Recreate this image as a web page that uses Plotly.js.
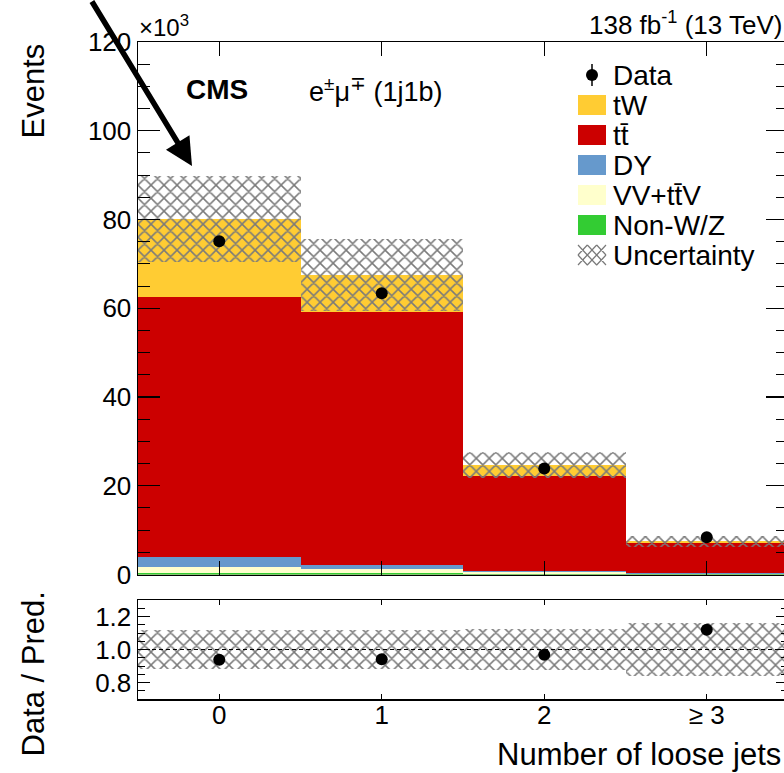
<!DOCTYPE html>
<html><head><meta charset="utf-8">
<script src="https://cdn.plot.ly/plotly-3.0.1.min.js"></script>
<style>html,body{margin:0;padding:0;overflow:hidden;background:#fff;width:784px;height:773px}</style>
</head><body><div id="chart" style="width:792px;height:773px"></div>
<script>
// values in units of 10^3 events
const categories = ['0', '1', '2', '≥ 3'];
const nonWZ = [0.45, 0.4, 0.2, 0.1];
const vvttv = [1.3, 0.8, 0.3, 0.1];
const dy = [2.15, 0.9, 0.3, 0.1];
const ttbar = [58.7, 57.0, 21.5, 6.7];
const tw = [17.5, 8.3, 2.4, 0.5];
const data = [75.1, 63.4, 23.9, 8.4];
const uncertainty = [9.7, 8.1, 3.0, 1.2];

const legendLabels = ['Data', 'tW', 'tt\u0304', 'DY', 'VV+tt\u0304V', 'Non-W/Z', 'Uncertainty'];
const colors = {tw: '#ffcc33', tt: '#cc0000', dy: '#6699cc', vv: '#ffffcc', nonwz: '#33cc33'};

const W = 792, H = 773, L = 138, R = 4, T = 42, B = 74;
const PW = W - L - R, PH = H - T - B;
const px = p => (p - L) / PW;
const py = p => (H - B - p) / PH;

function cum(...arrs) { return arrs[0].map((_, i) => arrs.reduce((s, a) => s + a[i], 0)); }
const c1 = cum(nonWZ), c2 = cum(nonWZ, vvttv), c3 = cum(nonWZ, vvttv, dy),
      c4 = cum(nonWZ, vvttv, dy, ttbar), c5 = cum(nonWZ, vvttv, dy, ttbar, tw);
const total = c5;

function bar(y, color, base) {
  const t = {type: 'bar', x: categories, y: y, width: 1, marker: {color: color, line: {width: 0}},
    xaxis: 'x', yaxis: 'y', hoverinfo: 'skip', showlegend: false};
  if (base) t.base = base;
  return t;
}
const hatch = {shape: 'x', fgcolor: '#7a7a7a', bgcolor: 'rgba(0,0,0,0)', size: 9.2, solidity: 0.3, fillmode: 'replace'};

const traces = [
  bar(c5, colors.tw), bar(c4, colors.tt), bar(c3, colors.dy), bar(c2, colors.vv), bar(c1, colors.nonwz),
  {type: 'bar', x: categories, y: uncertainty.map(u => 2 * u), base: total.map((t, i) => t - uncertainty[i]),
   width: 1, marker: {color: 'rgba(0,0,0,0)', line: {width: 0}, pattern: hatch}, xaxis: 'x', yaxis: 'y', showlegend: false},
  {type: 'scatter', mode: 'markers', x: categories, y: data, marker: {color: 'black', size: 12},
   xaxis: 'x', yaxis: 'y', showlegend: false},
  {type: 'bar', x: categories, y: uncertainty.map((u, i) => 2 * u / total[i]), base: uncertainty.map((u, i) => 1 - u / total[i]),
   width: 1, marker: {color: 'rgba(0,0,0,0)', line: {width: 0}, pattern: hatch}, xaxis: 'x2', yaxis: 'y2', showlegend: false},
  {type: 'scatter', mode: 'markers', x: categories, y: data.map((d, i) => d / total[i]), marker: {color: 'black', size: 12},
   xaxis: 'x2', yaxis: 'y2', showlegend: false}
];

const font = 'Liberation Sans, Arial, Helvetica, sans-serif';
const axisCommon = {showline: true, linecolor: 'black', linewidth: 1.5, mirror: 'ticks', showgrid: false, zeroline: false,
  ticks: 'inside', tickcolor: 'black', tickwidth: 1.2, fixedrange: true, tickfont: {family: font, size: 26, color: 'black'}};

const shapes = [
  {type: 'line', xref: 'paper', yref: 'y2', x0: 0, x1: 1, y0: 1, y1: 1, line: {color: 'black', width: 1, dash: '4px,3px'}}
];
const annotations = [];
function ann(text, x, y, opt) {
  annotations.push(Object.assign({text: text, xref: 'paper', yref: 'paper', x: px(x), y: py(y), showarrow: false,
    font: {family: font, size: 26, color: 'black'}}, opt || {}));
}
// legend
const legX0 = 578, legX1 = 606, legTextX = 611, legY0 = 75, legDY = 30;
legendLabels.forEach((lab, i) => {
  const yc = legY0 + i * legDY;
  ann(lab, legTextX, yc, {xanchor: 'left', yanchor: 'middle', font: {family: font, size: 28, color: 'black'}});
});
// data legend symbol
shapes.push({type: 'line', xref: 'paper', yref: 'paper', x0: px(592), x1: px(592), y0: py(legY0 - 11), y1: py(legY0 + 11), line: {color: 'black', width: 1.5}});
shapes.push({type: 'circle', xref: 'paper', yref: 'paper', x0: px(586), x1: px(598), y0: py(legY0 - 6), y1: py(legY0 + 6), fillcolor: 'black', line: {width: 0}});
[colors.tw, colors.tt, colors.dy, colors.vv, colors.nonwz].forEach((c, k) => {
  const yc = legY0 + (k + 1) * legDY;
  shapes.push({type: 'rect', xref: 'paper', yref: 'paper', x0: px(legX0), x1: px(legX1), y0: py(yc - 10), y1: py(yc + 10), fillcolor: c, line: {width: 0}});
});
// uncertainty legend hatch
(function () {
  const yc = legY0 + 6 * legDY, y0 = yc - 10, y1 = yc + 10;
  const cols = 3, rows = 2, cw = (legX1 - legX0) / cols, ch = (y1 - y0) / rows;
  let d = '';
  for (let r = 0; r < rows; r++) for (let c = 0; c < cols; c++) {
    const xa = legX0 + c * cw, xb = xa + cw, ya = y0 + r * ch, yb = ya + ch;
    d += `M${px(xa)},${py(ya)}L${px(xb)},${py(yb)}M${px(xa)},${py(yb)}L${px(xb)},${py(ya)}`;
  }
  shapes.push({type: 'path', xref: 'paper', yref: 'paper', path: d, line: {color: '#7a7a7a', width: 1.2}});
})();

ann('×10<sup>3</sup>', 137, 43, {xanchor: 'left', yanchor: 'bottom', font: {family: font, size: 24, color: 'black'}});
ann('<b>CMS</b>', 184, 89, {xanchor: 'left', yanchor: 'middle', font: {family: font, size: 28, color: 'black'}});
ann('e<sup>±</sup>μ<sup>∓</sup> (1j1b)', 307, 90, {xanchor: 'left', yanchor: 'middle', font: {family: font, size: 27, color: 'black'}});
ann('138 fb<sup>-1</sup> (13 TeV)', 784, 24, {xanchor: 'right', yanchor: 'middle', font: {family: font, size: 26, color: 'black'}});
ann('Events', 33, 42, {xanchor: 'center', yanchor: 'top', textangle: -90, font: {family: font, size: 31, color: 'black'}});
ann('Data / Pred.', 33, 590, {xanchor: 'center', yanchor: 'top', textangle: -90, font: {family: font, size: 31, color: 'black'}});
ann('Number of loose jets', 783, 754, {xanchor: 'right', yanchor: 'middle', font: {family: font, size: 31, color: 'black'}});
// arrow
annotations.push({text: '', xref: 'paper', yref: 'paper', x: px(192), y: py(166), showarrow: true, axref: 'pixel', ayref: 'pixel',
  ax: -101, ay: -176, arrowhead: 2, arrowsize: 1, arrowwidth: 5.5, arrowcolor: 'black'});

const layout = {
  width: W, height: H, margin: {l: L, r: R, t: T, b: B},
  paper_bgcolor: 'white', plot_bgcolor: 'rgba(0,0,0,0)',
  barmode: 'overlay', bargap: 0, showlegend: false, font: {family: font, color: 'black'},
  xaxis: Object.assign({}, axisCommon, {domain: [0, 1], anchor: 'y', type: 'category', categoryorder: 'array', categoryarray: categories,
    range: [-0.5, 3.5], showticklabels: false, ticklen: 14}),
  yaxis: Object.assign({}, axisCommon, {domain: [py(574.5), 1], anchor: 'x', range: [0, 120], tickmode: 'linear', tick0: 0, dtick: 20,
    ticklen: 22, minor: {tick0: 0, dtick: 5, ticklen: 12, ticks: 'inside', tickcolor: 'black', tickwidth: 1}}),
  xaxis2: Object.assign({}, axisCommon, {domain: [0, 1], anchor: 'y2', type: 'category', categoryorder: 'array', categoryarray: categories,
    range: [-0.5, 3.5], ticklen: 5, ticklabelstandoff: -8}),
  yaxis2: Object.assign({}, axisCommon, {domain: [0, py(600)], anchor: 'x2', range: [0.7, 1.3], tickmode: 'linear', tick0: 0.8, dtick: 0.2,
    tickformat: '.1f', ticklen: 12, minor: {tick0: 0.7, dtick: 0.05, ticklen: 7, ticks: 'inside', tickcolor: 'black', tickwidth: 1}}),
  shapes: shapes, annotations: annotations
};
Plotly.newPlot('chart', traces, layout, {staticPlot: true, displayModeBar: false});
</script></body></html>
